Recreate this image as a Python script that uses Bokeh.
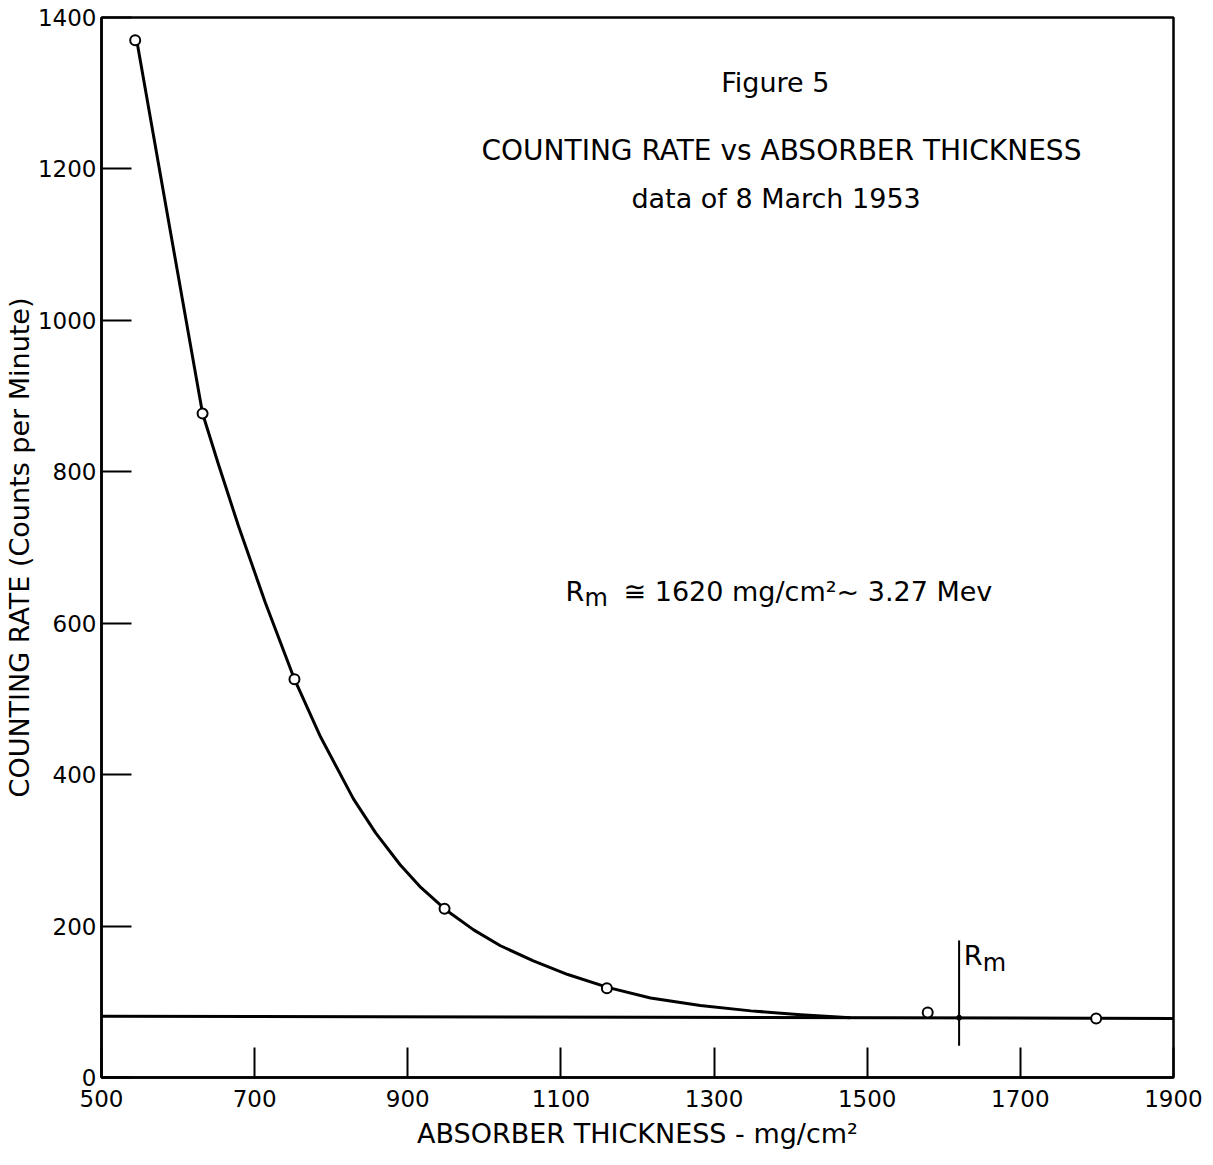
from bokeh.plotting import figure
from bokeh.models import Label, FixedTicker, Range1d
from bokeh.embed import file_html
from bokeh.resources import INLINE

# ---- data ----
point_x = [544, 632, 752, 948, 1160, 1579, 1799]
point_y = [1370, 877, 526, 223, 118, 86, 78]

curve_x = [546, 589, 632, 653, 679, 714, 752, 786, 829, 858, 890, 917, 949,
           986, 1021, 1064, 1109, 1161, 1217, 1282, 1348, 1413, 1478]
curve_y = [1370, 1123, 877, 809, 728, 627, 526, 450, 368, 323, 281, 251, 222,
           195, 174, 154, 136, 119, 105, 95, 88, 83, 79]

base_x = [500, 1900]
base_y = [81, 78]

rm_value = 1620
rm_line_y = [42, 181]
rm_level = 79

x_ticks = [500, 700, 900, 1100, 1300, 1500, 1700, 1900]
y_ticks = [0, 200, 400, 600, 800, 1000, 1200, 1400]

FONT = "DejaVu Sans"

p = figure(width=1213, height=1165, output_backend="svg", toolbar_location=None,
           x_range=Range1d(500, 1900), y_range=Range1d(0, 1400),
           min_border_left=101, min_border_right=40, min_border_top=17,
           min_border_bottom=88)
p.grid.visible = False
p.background_fill_color = "white"
p.border_fill_color = "white"
p.outline_line_color = "black"
p.outline_line_width = 2.5

for ax, ticks in ((p.xaxis[0], x_ticks), (p.yaxis[0], y_ticks)):
    ax.ticker = FixedTicker(ticks=ticks)
    ax.major_tick_in = 30
    ax.major_tick_out = 0
    ax.minor_tick_in = 0
    ax.minor_tick_out = 0
    ax.major_tick_line_width = 2
    ax.major_tick_line_color = "black"
    ax.axis_line_color = "black"
    ax.axis_line_width = 2.5
    ax.major_label_text_font = FONT
    ax.major_label_text_font_size = "23px"
    ax.major_label_text_color = "black"
    ax.axis_label_text_font = FONT
    ax.axis_label_text_font_style = "normal"
    ax.axis_label_text_color = "black"

p.xaxis.major_label_standoff = 12
p.yaxis.major_label_standoff = 5
p.xaxis.axis_label = "ABSORBER THICKNESS - mg/cm²"
p.xaxis.axis_label_text_font_size = "27px"
p.xaxis.axis_label_standoff = 8
p.yaxis.axis_label = "COUNTING RATE (Counts per Minute)"
p.yaxis.axis_label_text_font_size = "27px"
p.yaxis.axis_label_standoff = 0

# background level line
p.line(base_x, base_y, line_color="black", line_width=3)
# fitted curve
p.line(curve_x, curve_y, line_color="black", line_width=3, line_join="round")
# Rm marker
p.line([rm_value, rm_value], rm_line_y, line_color="black", line_width=2)
p.scatter([rm_value], [rm_level], marker="circle", size=5, color="black")
# measured points
p.scatter(point_x, point_y, marker="circle", size=10, fill_color="white",
          line_color="black", line_width=2)

def lab(x, y, text, size, align="center", dx=0, dy=0):
    p.add_layout(Label(x=x, y=y, text=text, text_align=align,
                       text_baseline="middle", text_font=FONT,
                       x_offset=dx, y_offset=dy,
                       text_font_size=size, text_color="black"))

lab(1380, 1314, "Figure 5", "27px")
lab(1388, 1225, "COUNTING RATE vs ABSORBER THICKNESS", "28px")
lab(1381, 1161, "data of 8 March 1953", "27px")
# Rm ≅ 1620 mg/cm²~ 3.27 Mev
lab(1106, 642, "R", "27px", "left")
lab(1106, 642, "m", "24px", "left", dx=19, dy=-7)
lab(1106, 642, "≅ 1620 mg/cm²~ 3.27 Mev", "27px", "left", dx=58)
# Rm label by the marker
lab(1626, 161, "R", "27px", "left")
lab(1626, 161, "m", "24px", "left", dx=19, dy=-7)

open("out.html", "w").write(file_html(p, INLINE))
